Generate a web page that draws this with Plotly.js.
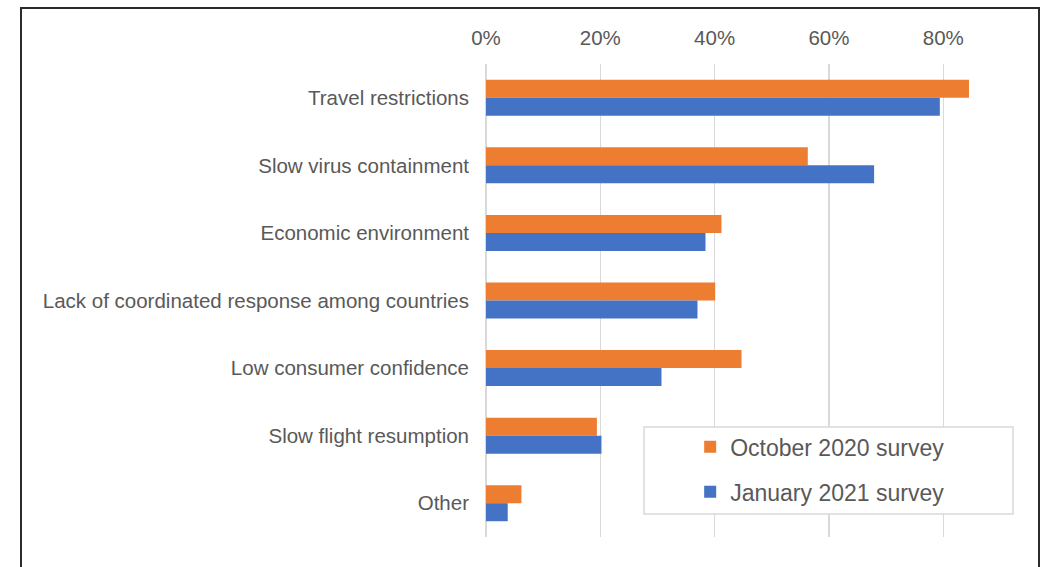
<!DOCTYPE html>
<html>
<head>
<meta charset="utf-8">
<script src="https://cdn.plot.ly/plotly-3.0.1.min.js"></script>
<style>
  html, body { margin: 0; padding: 0; background: #ffffff; overflow: hidden; }
  #chart { position: absolute; left: 0; top: 0; width: 1046px; height: 567px; }
  #frame { position: absolute; left: 20px; top: 7px; width: 1020px; height: 600px;
           border: 2px solid #2b2b2b; pointer-events: none; box-sizing: border-box; }
</style>
</head>
<body>
<div id="chart"></div>
<div id="frame"></div>
<script>
// Categories (top to bottom)
const categories = [
  "Travel restrictions",
  "Slow virus containment",
  "Economic environment",
  "Lack of coordinated response among countries",
  "Low consumer confidence",
  "Slow flight resumption",
  "Other"
];
// Share of respondents (fraction)
const october2020 = [0.845, 0.563, 0.412, 0.401, 0.447, 0.194, 0.062];
const january2021 = [0.794, 0.679, 0.384, 0.370, 0.307, 0.202, 0.038];
const seriesNames = ["October 2020 survey", "January 2021 survey"];
const tickValues = [0, 0.2, 0.4, 0.6, 0.8];
const tickLabels = ["0%", "20%", "40%", "60%", "80%"];

const ORANGE = "#ED7D31";
const BLUE = "#4472C4";
const TEXT = "#595959";
const GRID = "#d9d9d9";
const FONT = "'Liberation Sans', Arial, sans-serif";

const traces = [
  { type: "bar", orientation: "h", name: seriesNames[0], y: categories, x: october2020,
    marker: { color: ORANGE }, legendgroup: "a", hoverinfo: "x+y" },
  { type: "bar", orientation: "h", name: seriesNames[1], y: categories, x: january2021,
    marker: { color: BLUE }, legendgroup: "b", hoverinfo: "x+y" }
];

const layout = {
  width: 1046, height: 567,
  margin: { l: 486, r: 17, t: 64, b: 30, pad: 0 },
  paper_bgcolor: "#ffffff", plot_bgcolor: "#ffffff",
  font: { family: FONT, color: TEXT, size: 20.5 },
  barmode: "group", bargap: 0.467, bargroupgap: 0,
  showlegend: true,
  legend: {
    x: 0.376, xanchor: "left", y: 0.236, yanchor: "top",
    bgcolor: "rgba(0,0,0,0)", borderwidth: 0,
    font: { family: FONT, color: TEXT, size: 23 },
    tracegroupgap: 12, traceorder: "grouped"
  },
  xaxis: {
    side: "top", range: [0, 0.95], tickvals: tickValues, ticktext: tickLabels,
    showgrid: true, gridcolor: GRID, gridwidth: 1.5,
    zeroline: true, zerolinecolor: GRID, zerolinewidth: 1.5,
    showline: false, ticks: "", ticklabelstandoff: 14,
    tickfont: { family: FONT, color: TEXT, size: 20.5 }, fixedrange: true
  },
  yaxis: {
    type: "category", autorange: "reversed", showgrid: false, zeroline: false,
    showline: false, ticks: "", ticklabelstandoff: 16,
    tickfont: { family: FONT, color: TEXT, size: 20.5 }, fixedrange: true
  },
  shapes: [
    { type: "rect", xref: "paper", yref: "paper", x0: 0.291, x1: 0.9705, y0: 0.0486, y1: 0.2326,
      line: { color: GRID, width: 1.5 }, fillcolor: "#ffffff", layer: "above" }
  ]
};

Plotly.newPlot("chart", traces, layout, { displayModeBar: false, staticPlot: true });
</script>
</body>
</html>
